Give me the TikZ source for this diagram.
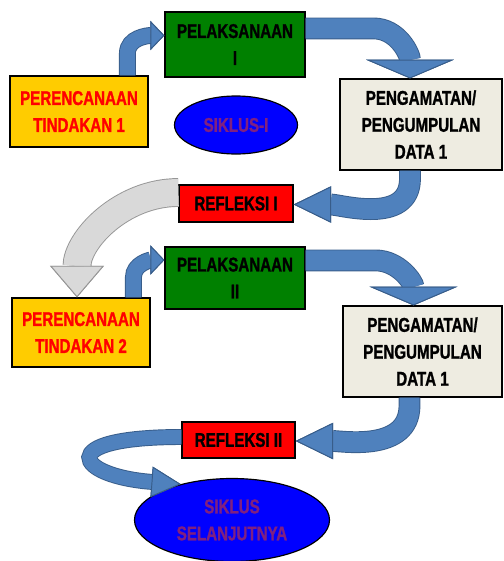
\documentclass[tikz,border=0pt]{standalone}
\usepackage{fontspec}
\setmainfont{Liberation Sans}[FakeStretch=0.76, BoldFeatures={FakeBold=1.2}]
\usetikzlibrary{arrows.meta,shapes.geometric,calc}

\definecolor{plangold}{RGB}{255,204,0}
\definecolor{actgreen}{RGB}{0,128,0}
\definecolor{obsbeige}{RGB}{238,236,225}
\definecolor{cycleblue}{RGB}{0,0,255}
\definecolor{cyclepurple}{RGB}{128,32,128}
\definecolor{flowblue}{RGB}{79,129,189}
\definecolor{flowedge}{RGB}{56,93,138}
\definecolor{backgray}{RGB}{217,217,217}
\definecolor{backedge}{RGB}{150,150,150}

\tikzset{
  box/.style={draw, line width=1pt, align=center, inner sep=0pt,
    font=\bfseries\fontsize{17}{23}\selectfont},
  cycle/.style={box, ellipse, fill=cycleblue, text=cyclepurple},
  flow/.style n args={3}{draw=flowblue, line width=#1,
    -{Triangle[width=#2, length=#3, fill=flowblue, color=flowedge, line width=0.8pt]},
    preaction={draw=flowedge, line width=#1+1.6pt,
      -{Triangle[width=#2, length=#3, fill=flowblue, color=flowedge, line width=0.8pt]}}},
  backflow/.style n args={3}{draw=backgray, line width=#1,
    -{Triangle[width=#2, length=#3, fill=backgray, color=backedge, line width=0.8pt]},
    preaction={draw=backedge, line width=#1+1.6pt,
      -{Triangle[width=#2, length=#3, fill=backgray, color=backedge, line width=0.8pt]}}}
}

\begin{document}
\begin{tikzpicture}[x=0.3mm, y=0.3mm]
\useasboundingbox (0,0) rectangle (503,-561);

% first cycle
\node[box, fill=plangold, text=red, minimum width=4.14cm, minimum height=2.13cm]
  (ren1) at (79,-111.5) {PERENCANAAN\\TINDAKAN 1};
\node[box, fill=actgreen, minimum width=4.2cm, minimum height=1.95cm]
  (pel1) at (235,-44.5) {PELAKSANAAN\\I};
\node[cycle, minimum width=3.69cm, minimum height=1.74cm]
  (sik1) at (236,-125) {SIKLUS-I};
\node[box, fill=obsbeige, minimum width=4.86cm, minimum height=2.73cm]
  (pen1) at (421,-124.5) {PENGAMATAN/\\PENGUMPULAN\\DATA 1};
\node[box, fill=red, minimum width=3.42cm, minimum height=1.11cm]
  (ref1) at (236,-203.5) {REFLEKSI I};

% second cycle
\node[box, fill=actgreen, minimum width=4.2cm, minimum height=1.86cm]
  (pel2) at (235,-278) {PELAKSANAAN\\II};
\node[box, fill=plangold, text=red, minimum width=4.14cm, minimum height=2.07cm]
  (ren2) at (81,-332.5) {PERENCANAAN\\TINDAKAN 2};
\node[box, fill=obsbeige, minimum width=4.77cm, minimum height=2.73cm]
  (pen2) at (422.5,-351.5) {PENGAMATAN/\\PENGUMPULAN\\DATA 1};
\node[box, fill=red, minimum width=3.39cm, minimum height=1.08cm]
  (ref2) at (238.5,-440) {REFLEKSI II};
\node[cycle, minimum width=5.85cm, minimum height=2.49cm]
  (sik2) at (232,-520) {SIKLUS\\SELANJUTNYA};

% arrows
\draw[flow={12.8pt}{25pt}{12pt}] ($(ren1.north west)+(118,0)$) -- ++(0,22)
  to[out=90,in=180] ($(pel1.west)+(0,9)$);
\draw[flow={17pt}{75pt}{16pt}] ($(pel1.north east)+(0,-17)$) -- ++(68,0)
  to[out=0,in=90] ($(pen1.north)+(-11,0)$);
\draw[flow={17pt}{31pt}{32pt}] ($(pen1.south)+(-11,0)$) -- ++(0,-8)
  to[out=-90,in=0] ($(ref1.east)+(0,-1)$);
\draw[backflow={23pt}{46pt}{27pt}] ($(ref1.west)+(0,11)$)
  to[out=180,in=90] ($(ren2.north)+(-4,0)$);
\draw[flow={12.8pt}{25pt}{12pt}] ($(ren2.north west)+(122,0)$) -- ++(0,20)
  to[out=90,in=180] ($(pel2.west)+(0,18)$);
\draw[flow={17pt}{75pt}{16pt}] ($(pel2.north east)+(0,-14)$) -- ++(70,0)
  to[out=0,in=90] ($(pen2.north)+(-9,0)$);
\draw[flow={17pt}{31pt}{32pt}] ($(pen2.south)+(-13,0)$) -- ++(0,-8)
  to[out=-90,in=0] ($(ref2.east)+(0,-1)$);
\draw[flow={12pt}{26pt}{25pt}] ($(ref2.west)+(0,3)$)
  .. controls +(-130,0) and +(-105,8) .. (sik2.145);
\end{tikzpicture}
\end{document}
